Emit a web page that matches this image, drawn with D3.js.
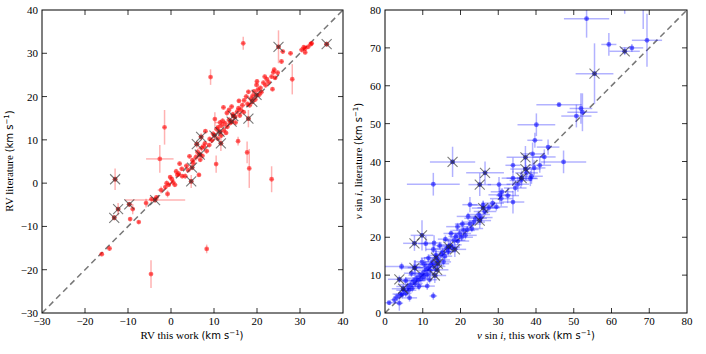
<!DOCTYPE html>
<html><head><meta charset="utf-8">
<script src="https://cdn.jsdelivr.net/npm/d3@7"></script>
<style>body{margin:0;background:#fff}</style>
</head><body>
<svg id="c" width="706" height="354"></svg>
<script>
// ---- data: [this work, literature, err this work, err literature]
const rvPoints = [
[-16.1,-16.4,0.5,0.5],[-14.3,-15.1,0.5,0.5],[-9.5,-8.3,0.4,0.5],[-7.5,-9.0,0.4,0.4],[-8.9,-6.0,0.5,1.2],
[-5.8,-4.6,0.5,1.0],[-4.5,-3.7,0.6,0.6],[-3.4,-3.3,0.5,0.5],[-2.3,-1.6,0.8,0.8],[-0.8,-2.5,0.5,0.8],
[-1.0,0.0,0.5,0.6],[-1.3,-0.9,0.5,0.5],[-0.5,-0.4,0.5,0.5],[0.9,-0.4,0.6,0.5],[0.2,0.9,0.5,0.5],
[1.5,1.9,0.5,0.5],[2.6,1.6,0.5,0.5],[3.3,1.6,0.6,0.6],[6.5,1.9,0.5,0.5],[1.2,2.7,0.5,0.6],
[1.8,2.2,0.5,0.5],[3.6,4.0,0.6,0.6],[5.2,4.6,0.5,0.5],[-4.65,-21.0,0.4,3.2],[8.3,-15.2,0.4,1.0],
[23.4,0.9,0.4,3.0],[18.2,3.4,0.4,4.5],[17.7,7.1,0.4,2.5],[10.5,4.4,0.4,2.0],[15.6,9.7,0.4,1.0],
[-2.6,5.6,3.2,3.2],[-1.5,12.9,0.4,4.0],[9.2,24.5,0.4,1.8],[16.8,32.3,0.4,1.5],[28.2,24.0,0.4,3.5],
[5.8,6.0,0.6,0.8],[6.2,7.2,0.6,0.8],[7.1,8.1,0.8,0.8],[7.6,8.5,0.5,0.5],[8.9,8.8,0.5,0.5],
[9.5,9.9,0.6,0.6],[9.0,10.2,0.5,0.5],[10.2,14.8,0.4,1.6],[10.6,12.5,0.6,0.8],[11.0,12.9,0.5,0.5],
[11.8,13.3,0.8,0.6],[12.3,12.2,0.5,0.6],[12.6,13.8,0.6,0.6],[13.1,13.0,0.5,0.5],[13.5,14.6,0.6,0.6],
[13.0,16.2,0.5,0.6],[14.9,15.3,0.5,0.5],[15.4,16.5,0.6,0.8],[15.7,17.3,0.5,0.5],[16.2,17.0,0.5,0.5],
[16.6,18.0,0.6,0.6],[14.1,17.7,0.5,0.5],[12.2,17.5,0.5,0.5],[17.0,19.1,0.5,0.5],[17.5,20.0,0.6,0.6],
[18.0,21.1,0.5,0.5],[18.6,19.5,0.6,0.6],[19.3,21.2,0.5,0.5],[19.9,22.7,0.5,0.5],[20.5,20.4,0.6,0.5],
[20.8,22.0,0.5,0.5],[21.5,23.2,0.5,0.5],[22.3,24.0,0.5,0.5],[23.4,24.6,0.5,0.5],[23.6,21.7,0.4,0.5],
[23.8,25.6,0.5,0.5],[24.2,24.3,0.5,0.5],[24.8,25.5,0.5,0.5],[25.7,28.1,0.5,0.5],[26.0,30.4,0.5,0.5],
[27.8,30.0,0.5,0.5],[30.4,30.8,0.6,0.6],[31.2,30.2,0.5,0.5],[31.2,31.1,0.5,0.5],[31.9,31.5,0.5,0.5],
[32.5,32.1,0.5,0.5],[32.7,32.3,0.5,0.5],[30.9,31.4,0.5,0.5],[4.3,6.2,0.5,0.5],[5.0,5.3,0.5,0.5],
[6.8,5.4,0.5,0.5],[7.9,9.2,0.5,0.5],[8.3,7.4,0.6,0.6],[9.8,11.4,0.6,0.6],[10.9,10.3,0.5,0.5],
[11.7,11.0,0.5,0.5],[12.0,14.4,0.6,0.6],[12.8,11.6,0.5,0.5],[13.8,13.9,0.5,0.5],[14.4,15.9,0.6,0.6],
[15.0,14.0,0.5,0.5],[16.0,15.6,0.5,0.5],[16.9,16.4,0.5,0.5],[17.8,18.3,0.5,0.5],[18.3,18.0,0.5,0.5],
[19.0,20.2,0.5,0.5],[19.6,19.3,0.5,0.5],[20.2,21.6,0.5,0.5],[21.0,21.0,0.5,0.5],[22.0,22.6,0.5,0.5],
[22.7,23.3,0.5,0.5],[21.8,24.6,0.5,0.5],[8.0,12.0,0.5,0.5],[11.4,14.0,1.2,0.6],[15.8,19.0,0.5,0.5],
[13.5,16.9,0.5,0.5],[24.0,26.2,0.5,0.5],[20.0,23.5,0.5,0.5],[7.3,6.3,0.5,0.5],[4.0,3.0,0.5,0.5],
[2.0,4.5,0.5,0.5],[2.5,3.3,0.5,0.5],[-0.2,1.4,0.5,0.5],[0.5,0.2,0.5,0.5]
];
const rvFlagged = [
[25.0,31.5,0.4,3.8],[36.2,32.1,0.6,0.6],[19.9,20.4,0.8,0.8],[18.9,18.8,0.6,0.6],[18.0,14.9,0.5,2.0],
[14.5,15.5,0.6,0.6],[14.1,14.2,0.6,0.6],[11.3,11.9,0.6,0.6],[10.1,11.0,0.6,0.6],[11.6,9.2,0.4,1.8],
[7.0,10.7,0.6,0.8],[6.0,9.0,0.6,0.8],[6.7,6.6,0.6,0.6],[4.9,3.6,0.6,0.6],[4.7,0.4,0.5,1.5],
[-13.0,0.9,0.4,2.5],[-3.7,-3.9,7.0,0.6],[-9.7,-4.9,0.6,0.6],[-12.3,-6.0,0.5,1.4],[-13.2,-8.0,0.5,0.6]
];
const vsiniPoints = [
[53.4,77.7,6,5],[59.3,70.9,2,3],[65.4,70.0,3,1],[69.4,72.0,4,7],[63.5,85,2,6],[68.4,83,3,8],
[46.1,55.0,6,0.5],[51.9,54.0,3,4],[52.3,53.0,4,5],[50.7,52.0,4,3],[40.1,49.7,5,3],[39.7,45.6,2,2],
[43.2,43.8,3,2],[47.3,39.9,6,3],[42.2,41.2,3,2],[39.1,42.0,3,3],[33.9,39.0,2,2],[41.0,39.0,3,2],
[39.5,38.3,3,2],[12.8,34.0,7,3],[22.5,28.6,2,2],[33.9,29.3,3,3],[30.4,31.2,3,2],[30.8,30.2,3,2],
[30.2,33.9,3,2],[38.8,36.1,3,2],[33.9,35.6,3,2],[35.2,34.0,3,2],[12.8,4.5,1,1],[1.1,2.7,2,0.5],
[3.8,2.6,1,2],[4.4,12.3,5,1],[11.2,7.1,2,1],[10.8,18.3,2,2],
[2.5,3.5,1,1],[4.5,4.8,2,1],[5.0,6.0,2,1],[5.5,5.2,1.5,1],[6.0,7.0,3,1],[6.3,6.0,2,1],
[6.8,7.5,3,1],[7.2,6.5,2,1],[7.5,8.5,3,1],[8.0,7.8,2,1],[8.3,9.2,3,1],[8.8,8.6,2,1],
[9.2,10.0,3,1],[9.5,9.0,2,1],[10.0,10.5,3,1],[10.3,9.6,2,1],[10.8,11.3,3,1],[11.2,10.2,2,1],
[11.5,12.0,3,1],[12.0,11.2,2,1],[12.2,12.8,3,1],[12.6,13.5,2,1],[13.0,12.3,3,1],[13.5,15.2,2,1.5],
[14.2,14.0,3,1],[14.8,15.5,2,1],[15.3,16.2,3,1],[15.8,15.0,2,1],[16.3,17.0,3,1],[16.8,16.2,2,1],
[17.3,18.0,3,1],[17.8,17.3,2,1],[18.3,19.2,3,1],[18.8,20.2,2,1],[19.3,19.0,3,1],[19.8,21.0,3,1],
[20.3,20.0,3,1],[20.8,21.8,3,1],[21.3,20.5,3,1],[21.8,22.0,3,1],[22.5,23.5,3,1],[23.0,22.3,3,1],
[23.5,24.0,3,1],[24.0,25.0,3,1],[24.8,26.0,3,1],[25.5,25.2,3,1],[26.5,26.8,3,1],[27.5,27.8,3,1],
[28.5,29.0,3,1],[29.5,28.0,3,1],[31.0,32.0,3,1],[32.5,31.0,3,2],[34.5,33.0,3,2],[36.0,35.0,3,2],
[37.5,37.0,3,2],[38.5,35.5,2,2],[8.0,12.0,2,2],[7.0,10.5,2,1],[5.5,8.5,2,1],[9.8,13.5,2,1],
[11.5,14.5,2,1],[12.8,16.8,2,1],[14.5,17.8,2,1],[16.0,19.5,2,1],[17.5,21.0,2,1],[19.2,22.8,3,1],
[20.5,23.5,2,1],[10.5,12.8,3,2],[6.5,4.0,2,1],[9.0,7.0,2,1],[11.8,8.8,2,1],[4.0,5.0,2,1],
[3.2,4.2,1,1],[13.0,18.5,2,2],[15.5,13.5,2,1],[22.0,25.5,3,1],[26.0,28.5,3,1]
];
const vsiniFlagged = [
[63.5,69.1,4,1],[55.5,63.2,5,8],[17.9,39.9,6,4],[26.5,37.0,5,3],[37.2,41.1,5,3],[37.2,38.0,4,3],
[36.2,35.6,4,2],[25.1,33.9,3,3],[26.0,27.7,3,2],[25.1,24.4,3,2],[9.8,20.5,3,4],[7.8,18.4,3,2],
[7.8,11.9,4,2],[3.8,8.9,3,1],[13.5,14.6,3,2],[14.0,13.0,3,2],[13.8,11.4,3,2],[13.2,9.9,3,2],
[16.8,17.5,3,2],[18.5,16.8,3,2],[4.8,6.4,3,1]
];
const rvTicks = [-30,-20,-10,0,10,20,30,40];
const vsiniTicks = [0,10,20,30,40,50,60,70,80];

const svg = d3.select("#c");
const fmt = v => v < 0 ? "\u2212" + Math.abs(v) : String(v);
const SERIF = "'Liberation Serif','DejaVu Serif',serif";
const SANS = "'DejaVu Sans',sans-serif";

function panel(cfg){
  const {x0,x1,y0,y1,dom,ticks,pts,flag,color,id} = cfg;
  const xs = d3.scaleLinear().domain(dom).range([x0,x1]);
  const ys = d3.scaleLinear().domain(dom).range([y1,y0]);
  svg.append("clipPath").attr("id",id).append("rect")
    .attr("x",x0).attr("y",y0).attr("width",x1-x0).attr("height",y1-y0);
  const g = svg.append("g").attr("clip-path",`url(#${id})`);
  g.append("line").attr("x1",xs(dom[0])).attr("y1",ys(dom[0])).attr("x2",xs(dom[1])).attr("y2",ys(dom[1]))
    .attr("stroke","#777").attr("stroke-width",1.5).attr("stroke-dasharray","6,4");
  const all = pts.concat(flag);
  const eb = g.append("g").attr("stroke",color).attr("stroke-opacity",0.3).attr("stroke-width",1.5);
  all.forEach(d=>{
    eb.append("line").attr("x1",xs(d[0]-d[2])).attr("x2",xs(d[0]+d[2])).attr("y1",ys(d[1])).attr("y2",ys(d[1]));
    eb.append("line").attr("x1",xs(d[0])).attr("x2",xs(d[0])).attr("y1",ys(d[1]-d[3])).attr("y2",ys(d[1]+d[3]));
  });
  g.append("g").selectAll("circle").data(all).join("circle")
    .attr("cx",d=>xs(d[0])).attr("cy",d=>ys(d[1])).attr("r",2.4)
    .attr("fill",color).attr("fill-opacity",0.55);
  g.append("g").selectAll("circle").data(flag).join("circle")
    .attr("cx",d=>xs(d[0])).attr("cy",d=>ys(d[1])).attr("r",2.4)
    .attr("fill","#000").attr("fill-opacity",0.25);
  const cg = g.append("g").attr("stroke","#333").attr("stroke-opacity",0.65).attr("stroke-width",1.1);
  flag.forEach(d=>{
    const cx=xs(d[0]), cy=ys(d[1]), s=5;
    cg.append("path").attr("d",`M${cx-s},${cy-s}L${cx+s},${cy+s}M${cx-s},${cy+s}L${cx+s},${cy-s}`);
  });
  svg.append("rect").attr("x",x0).attr("y",y0).attr("width",x1-x0).attr("height",y1-y0)
    .attr("fill","none").attr("stroke","#000").attr("stroke-width",1);
  const tk = svg.append("g").attr("stroke","#000").attr("stroke-width",0.8);
  ticks.forEach(t=>{
    const px=xs(t), py=ys(t);
    if(t>dom[0] && t<dom[1]){
      tk.append("line").attr("x1",px).attr("x2",px).attr("y1",y1).attr("y2",y1-5);
      tk.append("line").attr("x1",px).attr("x2",px).attr("y1",y0).attr("y2",y0+5);
      tk.append("line").attr("y1",py).attr("y2",py).attr("x1",x0).attr("x2",x0+5);
      tk.append("line").attr("y1",py).attr("y2",py).attr("x1",x1).attr("x2",x1-5);
    }
  });
  const lab = svg.append("g").attr("font-family",SERIF).attr("font-size",11).attr("fill","#000");
  ticks.forEach(t=>{
    lab.append("text").attr("x",xs(t)).attr("y",y1+12).attr("text-anchor","middle").text(fmt(t));
    lab.append("text").attr("x",x0-4).attr("y",ys(t)+4).attr("text-anchor","end").text(fmt(t));
  });
  return {xs,ys};
}

panel({x0:42,x1:343,y0:10,y1:313,dom:[-30,40],ticks:rvTicks,pts:rvPoints,flag:rvFlagged,color:"#ff0000",id:"clipL"});
panel({x0:385,x1:687,y0:10,y1:313,dom:[0,80],ticks:vsiniTicks,pts:vsiniPoints,flag:vsiniFlagged,color:"#0000ff",id:"clipR"});

function unitLabel(t){
  t.append("tspan").attr("font-family",SANS).attr("font-size",10).text("(km s");
  t.append("tspan").attr("font-family",SANS).attr("font-size",7).attr("dy",-4).text("\u22121");
  t.append("tspan").attr("font-family",SANS).attr("font-size",10).attr("dy",4).text(")");
}
let t;
t = svg.append("text").attr("x",192).attr("y",339).attr("text-anchor","middle").attr("font-family",SERIF).attr("font-size",11);
t.append("tspan").text("RV this work ");
unitLabel(t);
t = svg.append("text").attr("transform","translate(13,161) rotate(-90)").attr("text-anchor","middle").attr("font-family",SERIF).attr("font-size",11);
t.append("tspan").text("RV literature ");
unitLabel(t);
t = svg.append("text").attr("x",536).attr("y",339).attr("text-anchor","middle").attr("font-family",SERIF).attr("font-size",11);
t.append("tspan").attr("font-style","italic").text("v");
t.append("tspan").text(" sin ");
t.append("tspan").attr("font-style","italic").text("i");
t.append("tspan").text(", this work ");
unitLabel(t);
t = svg.append("text").attr("transform","translate(362,161) rotate(-90)").attr("text-anchor","middle").attr("font-family",SERIF).attr("font-size",11);
t.append("tspan").attr("font-style","italic").text("v");
t.append("tspan").text(" sin ");
t.append("tspan").attr("font-style","italic").text("i");
t.append("tspan").text(", literature ");
unitLabel(t);
</script>
</body></html>
